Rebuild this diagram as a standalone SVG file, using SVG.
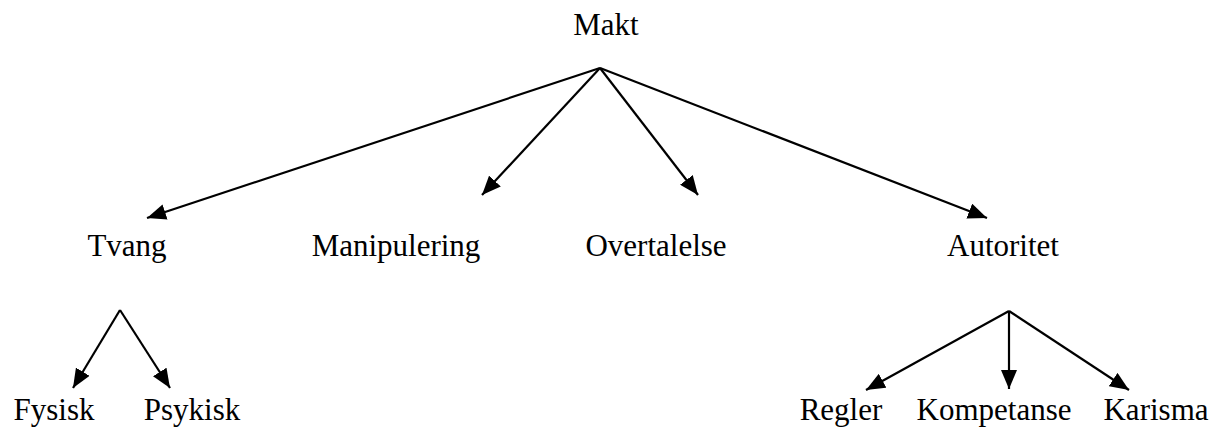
<svg xmlns="http://www.w3.org/2000/svg" width="1220" height="429" viewBox="0 0 1220 429">
  <defs>
    <marker id="arrow" markerUnits="userSpaceOnUse" markerWidth="20" markerHeight="16" refX="19" refY="8" orient="auto">
      <path d="M0,0 L19,8 L0,16 z" fill="#000"/>
    </marker>
    <style>
      .lbl { font-family: "Liberation Serif", "Times New Roman", serif; font-size: 31px; fill: #000; text-anchor: middle; }
      .edge { stroke: #000; stroke-width: 2.2; fill: none; marker-end: url(#arrow); }
    </style>
  </defs>
  <rect width="1220" height="429" fill="#fff"/>

  <g id="connectors">
    <path class="edge" d="M600,68 L147,218"/>
    <path class="edge" d="M600,68 L482,195"/>
    <path class="edge" d="M600,68 L698,195"/>
    <path class="edge" d="M600,68 L987,218"/>
    <path class="edge" d="M120,310 L73,388"/>
    <path class="edge" d="M120,310 L170,388"/>
    <path class="edge" d="M1009,311 L866,390"/>
    <path class="edge" d="M1009,311 L1009,389"/>
    <path class="edge" d="M1009,311 L1129,390"/>
  </g>

  <g id="node-makt"><text class="lbl" x="606" y="35">Makt</text></g>
  <g id="node-tvang"><text class="lbl" x="127" y="256">Tvang</text></g>
  <g id="node-manipulering"><text class="lbl" x="396" y="256">Manipulering</text></g>
  <g id="node-overtalelse"><text class="lbl" x="656" y="256">Overtalelse</text></g>
  <g id="node-autoritet"><text class="lbl" x="1003" y="256">Autoritet</text></g>
  <g id="node-fysisk"><text class="lbl" x="54" y="420">Fysisk</text></g>
  <g id="node-psykisk"><text class="lbl" x="192" y="420">Psykisk</text></g>
  <g id="node-regler"><text class="lbl" x="841" y="420">Regler</text></g>
  <g id="node-kompetanse"><text class="lbl" x="994" y="420">Kompetanse</text></g>
  <g id="node-karisma"><text class="lbl" x="1156" y="420">Karisma</text></g>
</svg>
